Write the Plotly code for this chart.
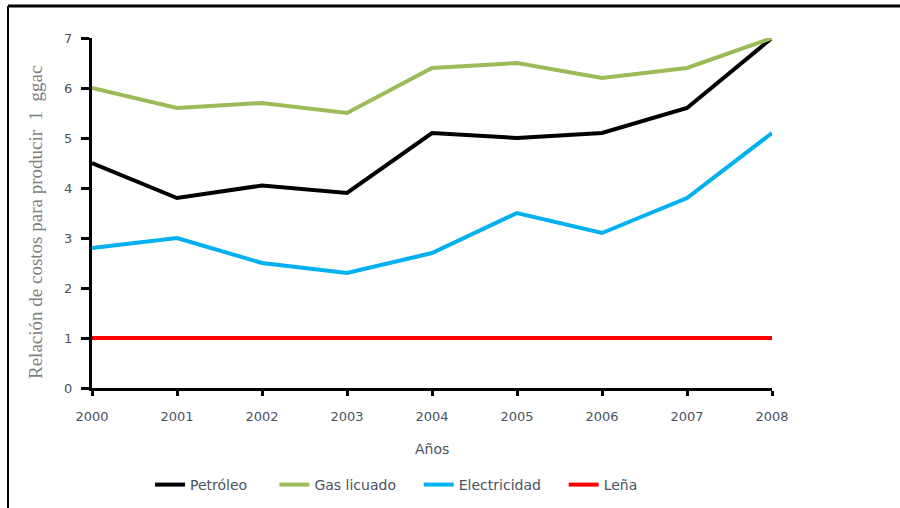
import plotly.graph_objects as go

years = [2000, 2001, 2002, 2003, 2004, 2005, 2006, 2007, 2008]
petroleo = [4.5, 3.8, 4.05, 3.9, 5.1, 5.0, 5.1, 5.6, 7.0]
gas_licuado = [6.0, 5.6, 5.7, 5.5, 6.4, 6.5, 6.2, 6.4, 7.0]
electricidad = [2.8, 3.0, 2.5, 2.3, 2.7, 3.5, 3.1, 3.8, 5.1]
lena = [1, 1, 1, 1, 1, 1, 1, 1, 1]

NB = "\u00a0"
series = [
    ("Petróleo", petroleo, "#000000", 5),
    ("Gas licuado", gas_licuado, "#9BBB59", 4),
    ("Electricidad", electricidad, "#00B0F0", 4),
    ("Leña", lena, "#FF0000", 0),
]

W, H = 900, 508
L, R, T, B = 92, 772, 38, 388

fig = go.Figure()
for name, vals, col, pad in series:
    fig.add_trace(go.Scatter(x=years, y=vals, name=name + NB * pad, mode="lines",
                             line=dict(color=col, width=4)))

def px(x):
    return (x - L) / (R - L)

def py(y):
    return (B - y) / (B - T)

txtcol = "#4a5362"
tickfont = dict(family="DejaVu Sans", size=13, color=txtcol)

fig.update_layout(
    width=W, height=H,
    margin=dict(l=L, r=W - R, t=T, b=H - B, autoexpand=False),
    paper_bgcolor="white", plot_bgcolor="white",
    showlegend=True,
    legend=dict(orientation="h", x=px(150), xanchor="left", y=py(485), yanchor="middle",
                font=dict(family="DejaVu Sans", size=14, color=txtcol),
                tracegroupgap=0),
    xaxis=dict(range=[2000, 2008], tickvals=years, ticktext=[str(y) for y in years],
               showgrid=False, zeroline=False, showline=True, linecolor="black", linewidth=3,
               ticks="outside", ticklen=5, tickwidth=3, tickcolor="black",
               tickfont=tickfont, ticklabelstandoff=9, automargin=False),
    yaxis=dict(range=[0, 7], dtick=1, showgrid=False, zeroline=False, showline=True,
               linecolor="black", linewidth=3, ticks="outside", ticklen=8, tickwidth=3,
               tickcolor="black", tickfont=tickfont, ticklabelstandoff=6, automargin=False),
    annotations=[
        dict(text="Años", x=px(432), y=py(449), xref="paper", yref="paper",
             showarrow=False, xanchor="center", yanchor="middle",
             font=dict(family="DejaVu Sans", size=14, color=txtcol)),
        dict(text="Relación de costos para producir  1  ggac", x=px(35), y=py(223),
             xref="paper", yref="paper", showarrow=False, textangle=-90,
             xanchor="center", yanchor="middle",
             font=dict(family="Liberation Serif", size=19, color="#7F7F7F")),
    ],
    shapes=[
        dict(type="line", xref="paper", yref="paper", x0=px(8), x1=px(900), y0=py(6), y1=py(6),
             line=dict(color="black", width=3)),
        dict(type="line", xref="paper", yref="paper", x0=px(8), x1=px(8), y0=py(6), y1=py(508),
             line=dict(color="black", width=2)),
    ],
)

fig.write_html("out.html")
